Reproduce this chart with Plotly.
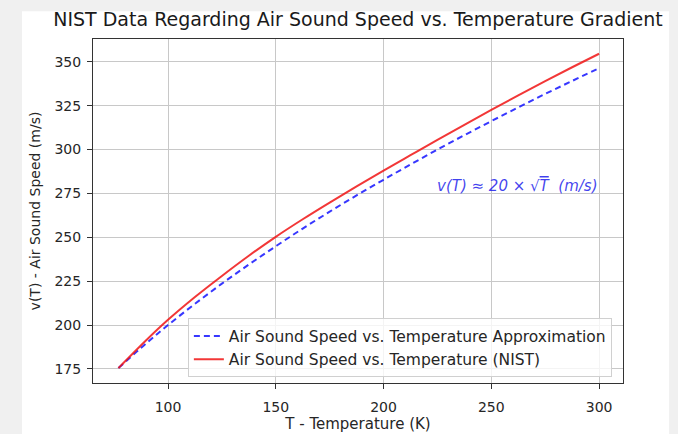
import plotly.graph_objects as go

# Temperature samples (K)
T_vals = [77, 90, 100, 112.5, 125, 137.5, 150, 162.5, 175, 187.5, 200, 212.5, 225, 237.5, 250, 262.5, 275, 287.5, 300]
# Approximation v(T) ~ 20*sqrt(T)
approx_vals = [175.5, 189.7, 200.0, 212.1, 223.6, 234.5, 244.9, 255.0, 264.6, 273.9, 282.8, 291.5, 300.0, 308.2, 316.2, 324.0, 331.7, 339.1, 346.4]
# NIST curve, values
nist_vals = [175.5, 191.5, 203.0, 216.0, 228.0, 239.5, 250.3, 260.3, 269.8, 279.0, 288.0, 296.8, 305.5, 314.1, 322.6, 330.9, 339.0, 346.9, 354.6]

x_ticks = [100, 150, 200, 250, 300]
y_ticks = [175, 200, 225, 250, 275, 300, 325, 350]

FONT = "DejaVu Sans"

fig = go.Figure()
fig.add_trace(go.Scatter(
    x=T_vals, y=approx_vals, mode="lines", line_shape="spline",
    name="Air Sound Speed vs. Temperature Approximation",
    line=dict(color="rgba(20,20,255,0.85)", width=2, dash="6px,4px"),
))
fig.add_trace(go.Scatter(
    x=T_vals, y=nist_vals, mode="lines", line_shape="spline",
    name="Air Sound Speed vs. Temperature (NIST)",
    line=dict(color="rgba(240,20,20,0.85)", width=2),
))

fig.add_annotation(
    x=225, y=275, xref="x", yref="y", xanchor="left", yanchor="bottom",
    text="<i>v(T) ≈ 20 × √<span style='text-decoration:overline'>T</span>  (m/s)</i>",
    showarrow=False, yshift=-4, xshift=-2,
    font=dict(family=FONT, size=15, color="rgba(30,30,235,0.85)"),
)

# white figure panel over light gray page
fig.add_shape(type="rect", xref="paper", yref="paper",
              x0=-0.134, x1=1.087, y0=-0.148, y1=1.081,
              fillcolor="white", line=dict(width=0), layer="below")

axis_common = dict(
    showgrid=True, gridcolor="#c8c8c8", gridwidth=1,
    showline=True, linecolor="#333333", linewidth=1, mirror=True,
    ticks="outside", ticklen=5, tickcolor="#333333",
    tickfont=dict(family=FONT, size=14, color="#262626"),
    zeroline=False, automargin=False,
)

fig.update_layout(
    width=678, height=434,
    margin=dict(l=93, r=55, t=39, b=51, autoexpand=False),
    paper_bgcolor="#f0f0f0", plot_bgcolor="white",
    title=dict(text="NIST Data Regarding Air Sound Speed vs. Temperature Gradient",
               x=0.5, xref="paper", xanchor="center", y=0.955, yanchor="middle",
               font=dict(family=FONT, size=19, color="#1a1a1a")),
    xaxis=dict(range=[65.2, 311.1], tickvals=x_ticks, ticklabelstandoff=6,
               title=dict(text="T - Temperature (K)", standoff=2,
                          font=dict(family=FONT, size=15, color="#262626")),
               **axis_common),
    yaxis=dict(range=[167, 363], tickvals=y_ticks, ticklabelstandoff=3,
               title=dict(text="v(T) - Air Sound Speed (m/s)", standoff=10,
                          font=dict(family=FONT, size=14, color="#262626")),
               **axis_common),
    legend=dict(x=0.979, y=0.016, xanchor="right", yanchor="bottom",
                bgcolor="rgba(255,255,255,0.8)", bordercolor="#d0d0d0", borderwidth=1,
                font=dict(family=FONT, size=15.5, color="#262626"),
                tracegroupgap=0, itemwidth=30),
    showlegend=True,
)

fig.write_html(
    "out.html",
    config={"displayModeBar": False},
    post_script="document.body.style.margin='0px';document.body.style.background='#f0f0f0';",
)
